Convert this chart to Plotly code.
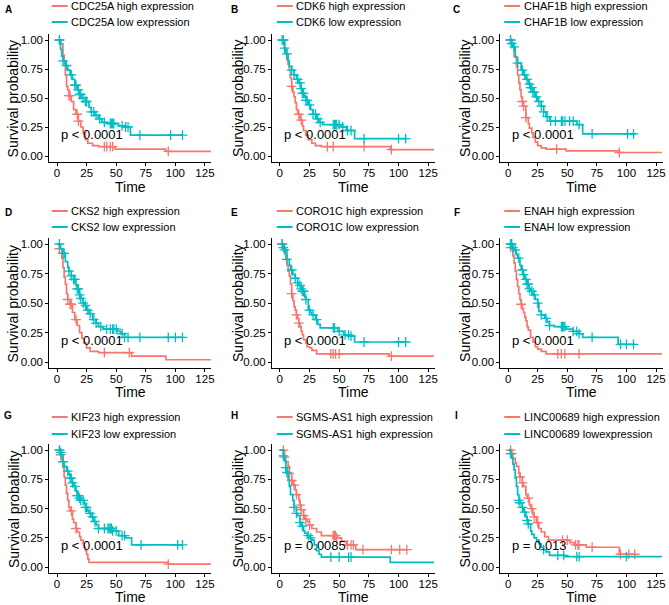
import numpy as np
import plotly.graph_objects as go

# ---------------- data ----------------
RED = "#F8766D"
TEAL = "#00BFC4"

panel_letters = ["A", "B", "C", "D", "E", "F", "G", "H", "I"]
legend_high = ["CDC25A high expression", "CDK6 high expression", "CHAF1B high expression",
               "CKS2 high expression", "CORO1C high expression", "ENAH high expression",
               "KIF23 high expression", "SGMS-AS1 high expression", "LINC00689 high expression"]
legend_low = ["CDC25A low expression", "CDK6 low expression", "CHAF1B low expression",
              "CKS2 low expression", "CORO1C low expression", "ENAH low expression",
              "KIF23 low expression", "SGMS-AS1 high expression", "LINC00689 lowexpression"]
p_labels = ["p < 0.0001", "p < 0.0001", "p < 0.0001", "p < 0.0001", "p < 0.0001",
            "p < 0.0001", "p < 0.0001", "p = 0.0085", "p = 0.013"]

x_ticks = [0, 25, 50, 75, 100, 125]
y_ticks = [0.0, 0.25, 0.5, 0.75, 1.0]
y_tick_text = ["0.00", "0.25", "0.50", "0.75", "1.00"]

# A  CDC25A
A_high_t = [0, 3, 5, 6, 7, 8, 9, 10, 12, 14, 16, 18, 20, 22, 24, 26, 30, 35, 49, 92, 130]
A_high_s = [1, .97, .87, .80, .70, .60, .57, .52, .47, .40, .36, .30, .25, .20, .14, .11, .09, .08, .06, .04, .04]
A_high_c = [2, 10, 11, 17, 18, 40, 42, 45, 47, 94]
A_low_t = [0, 3, 4, 5, 7, 9, 11, 13, 15, 17, 19, 21, 24, 27, 29, 32, 35, 38, 43, 52, 57, 62, 106]
A_low_s = [1, .92, .86, .82, .78, .74, .70, .66, .61, .57, .53, .50, .47, .42, .38, .35, .32, .29, .28, .26, .25, .18, .18]
A_low_c = [2, 5, 8, 12, 15, 16, 18, 19, 20, 22, 24, 25, 29, 31, 33, 36, 40, 45, 46, 47, 48, 55, 58, 60, 70, 96, 106]

# B  CDK6
B_high_t = [0, 4, 6, 7, 8, 9, 10, 11, 12, 13, 14, 15, 17, 19, 20, 22, 24, 27, 30, 35, 93, 130]
B_high_s = [1, .92, .83, .79, .74, .67, .60, .55, .51, .46, .40, .36, .31, .26, .22, .18, .14, .11, .09, .08, .055, .055]
B_high_c = [3, 10, 16, 18, 40, 45, 71, 94]
B_low_t = [0, 4, 5, 7, 8, 10, 12, 14, 16, 18, 19, 21, 22, 24, 26, 28, 31, 33, 36, 52, 56, 63, 107]
B_low_s = [1, .93, .88, .82, .77, .74, .70, .66, .63, .58, .54, .51, .48, .44, .40, .36, .32, .29, .27, .25, .22, .15, .15]
B_low_c = [2, 3, 4, 6, 10, 12, 15, 17, 18, 19, 20, 22, 23, 25, 28, 30, 32, 34, 45, 46, 47, 48, 50, 53, 57, 60, 71, 100, 106]

# C  CHAF1B
C_high_t = [0, 3, 5, 7, 8, 9, 10, 11, 12, 13, 15, 17, 18, 20, 21, 23, 25, 28, 32, 49, 94, 130]
C_high_s = [1, .95, .86, .77, .70, .63, .57, .51, .47, .43, .33, .28, .24, .20, .16, .12, .09, .07, .06, .045, .03, .03]
C_high_c = [2, 12, 13, 15, 41, 94]
C_low_t = [0, 3, 4, 6, 8, 11, 13, 15, 17, 19, 21, 23, 25, 28, 30, 32, 35, 58, 63, 108]
C_low_s = [1, .97, .94, .85, .80, .74, .70, .66, .62, .59, .55, .51, .47, .43, .38, .34, .30, .27, .19, .19]
C_low_c = [2, 3, 5, 8, 12, 14, 16, 18, 19, 20, 21, 22, 24, 26, 28, 30, 33, 36, 40, 45, 46, 48, 52, 55, 60, 71, 101, 106]

# D  CKS2
D_high_t = [0, 2, 4, 5, 6, 7, 8, 9, 11, 13, 15, 17, 19, 21, 23, 25, 28, 35, 63, 92, 130]
D_high_s = [1, .96, .88, .80, .72, .66, .58, .53, .49, .42, .36, .31, .25, .20, .16, .12, .09, .08, .05, .02, .02]
D_high_c = [2, 9, 11, 12, 16, 40, 61]
D_low_t = [0, 3, 5, 7, 9, 10, 12, 14, 16, 17, 19, 20, 22, 23, 25, 27, 30, 33, 35, 39, 51, 54, 57, 106]
D_low_s = [1, .96, .92, .85, .80, .77, .73, .70, .65, .62, .57, .54, .50, .48, .44, .41, .36, .33, .30, .28, .26, .24, .21, .21]
D_low_c = [2, 5, 6, 10, 12, 14, 15, 17, 18, 19, 20, 22, 24, 26, 28, 31, 33, 37, 42, 45, 47, 48, 50, 55, 57, 60, 70, 94, 100, 106]

# E  CORO1C
E_high_t = [0, 3, 5, 6, 7, 8, 9, 10, 11, 12, 13, 14, 15, 16, 17, 18, 19, 20, 22, 23, 25, 27, 31, 92, 130]
E_high_s = [1, .97, .87, .82, .77, .73, .66, .58, .52, .47, .44, .40, .37, .33, .30, .26, .23, .19, .16, .13, .12, .10, .07, .05, .05]
E_high_c = [2, 10, 14, 16, 43, 45, 47, 50, 94]
E_low_t = [0, 3, 4, 6, 8, 9, 11, 13, 15, 16, 18, 19, 21, 22, 24, 26, 27, 30, 32, 34, 49, 54, 59, 63, 107]
E_low_s = [1, .97, .95, .87, .82, .78, .74, .71, .67, .65, .62, .60, .55, .53, .44, .42, .40, .36, .32, .29, .26, .23, .22, .17, .17]
E_low_c = [2, 3, 4, 6, 10, 13, 15, 17, 18, 19, 20, 22, 25, 28, 31, 45, 46, 50, 55, 58, 60, 71, 100, 106]

# F  ENAH
F_high_t = [0, 2, 4, 5, 6, 7, 8, 9, 10, 11, 12, 13, 14, 15, 16, 17, 19, 21, 23, 25, 28, 32, 130]
F_high_s = [1, .97, .90, .84, .77, .70, .64, .58, .53, .49, .45, .42, .38, .35, .30, .27, .21, .17, .13, .11, .09, .07, .07]
F_high_c = [2, 11, 42, 45, 48, 60]
F_low_t = [0, 4, 5, 7, 8, 10, 11, 13, 14, 16, 18, 19, 21, 23, 25, 26, 28, 31, 33, 35, 39, 49, 55, 60, 63, 93, 107]
F_low_s = [1, .97, .95, .91, .88, .82, .78, .74, .70, .66, .62, .60, .57, .53, .50, .43, .40, .37, .34, .31, .30, .28, .26, .24, .21, .15, .15]
F_low_c = [2, 3, 4, 6, 9, 12, 13, 15, 16, 17, 18, 20, 22, 25, 28, 32, 35, 45, 46, 47, 48, 55, 58, 60, 71, 95, 100, 106]

# G  KIF23
G_high_t = [0, 3, 4, 5, 6, 7, 8, 9, 10, 11, 13, 14, 16, 17, 19, 20, 22, 23, 24, 25, 26, 27, 94, 130]
G_high_s = [1, .96, .91, .85, .77, .70, .63, .57, .51, .48, .41, .38, .33, .30, .26, .23, .20, .17, .14, .11, .07, .04, .025, .025]
G_high_c = [2, 3, 12, 16, 94]
G_low_t = [0, 3, 4, 5, 6, 8, 10, 11, 13, 14, 16, 17, 19, 20, 23, 24, 26, 27, 29, 31, 33, 35, 47, 52, 58, 63, 106]
G_low_s = [1, .98, .96, .90, .86, .82, .79, .76, .72, .69, .65, .61, .59, .57, .54, .51, .48, .46, .43, .39, .36, .33, .31, .27, .25, .19, .19]
G_low_c = [2, 3, 5, 9, 11, 12, 13, 15, 17, 18, 19, 20, 22, 24, 25, 28, 30, 32, 35, 40, 43, 44, 45, 46, 47, 50, 55, 57, 71, 102, 106]

# H  SGMS-AS1
H_high_t = [0, 4, 5, 7, 8, 10, 11, 13, 14, 16, 17, 18, 20, 21, 23, 25, 27, 31, 35, 48, 52, 56, 64, 107]
H_high_s = [1, .94, .90, .86, .80, .74, .70, .66, .62, .57, .53, .49, .44, .41, .39, .36, .33, .30, .27, .25, .22, .19, .15, .15]
H_high_c = [3, 4, 8, 10, 12, 14, 17, 18, 20, 22, 25, 45, 46, 47, 48, 57, 60, 62, 70, 94, 101, 107]
H_low_t = [0, 3, 4, 5, 6, 7, 8, 9, 11, 12, 14, 15, 17, 18, 20, 21, 23, 25, 27, 29, 31, 33, 35, 93, 130]
H_low_s = [1, .95, .91, .85, .81, .75, .69, .62, .57, .51, .46, .44, .38, .35, .31, .29, .27, .25, .23, .19, .14, .11, .086, .04, .04]
H_low_c = [3, 5, 6, 12, 14, 17, 19, 24, 26, 43, 50, 58, 60]

# I  LINC00689
I_high_t = [0, 3, 4, 6, 7, 9, 10, 12, 13, 15, 16, 18, 19, 21, 22, 24, 26, 28, 31, 34, 52, 56, 66, 94, 107]
I_high_s = [1, .97, .93, .89, .86, .80, .77, .72, .69, .62, .59, .53, .50, .45, .43, .38, .33, .30, .26, .23, .21, .19, .17, .11, .11]
I_high_c = [2, 3, 10, 12, 17, 20, 22, 25, 46, 50, 57, 59, 60, 71, 95, 102, 107]
I_low_t = [0, 2, 3, 4, 5, 6, 7, 8, 9, 10, 12, 13, 15, 16, 17, 19, 20, 22, 24, 26, 28, 30, 32, 35, 48, 130]
I_low_s = [1, .97, .93, .88, .83, .76, .69, .62, .57, .55, .51, .47, .43, .40, .37, .31, .28, .25, .23, .20, .17, .15, .13, .10, .09, .09]
I_low_c = [2, 9, 10, 12, 14, 16, 17, 30, 42, 47, 58, 60, 100]

high_curves = [(A_high_t, A_high_s, A_high_c), (B_high_t, B_high_s, B_high_c), (C_high_t, C_high_s, C_high_c),
               (D_high_t, D_high_s, D_high_c), (E_high_t, E_high_s, E_high_c), (F_high_t, F_high_s, F_high_c),
               (G_high_t, G_high_s, G_high_c), (H_high_t, H_high_s, H_high_c), (I_high_t, I_high_s, I_high_c)]
low_curves = [(A_low_t, A_low_s, A_low_c), (B_low_t, B_low_s, B_low_c), (C_low_t, C_low_s, C_low_c),
              (D_low_t, D_low_s, D_low_c), (E_low_t, E_low_s, E_low_c), (F_low_t, F_low_s, F_low_c),
              (G_low_t, G_low_s, G_low_c), (H_low_t, H_low_s, H_low_c), (I_low_t, I_low_s, I_low_c)]

# ---------------- layout geometry (pixels) ----------------
W, H = 669, 605
FONT = "Liberation Sans"


def px(x):
    return x / W


def py(y):
    return 1 - y / H


col_dom = [(49.6, 212.4), (273.3, 436.7), (502.7, 665.5)]
row_dom = [(34.2, 161.8), (238.1, 368.0), (444.2, 573.0)]
legend_y = [(6, 22), (211, 227), (417, 434)]
legend_x = [52, 278, 506.5]
letter_x = [8.5, 236, 459]
letter_y = [10, 212, 415]
ytitle_x = [13.5, 239, 467]
xtitle_y = [187, 392, 597]


def step_value(t, s, c):
    t = np.asarray(t, float)
    s = np.asarray(s, float)
    idx = np.searchsorted(t, np.asarray(c, float), side="right") - 1
    return s[np.clip(idx, 0, len(s) - 1)]


fig = go.Figure()
shapes = []
annotations = []
layout_axes = {}

for k in range(9):
    r, c = divmod(k, 3)
    n = k + 1
    xa = "x" if n == 1 else f"x{n}"
    ya = "y" if n == 1 else f"y{n}"
    for (t, s, cens), color in ((high_curves[k], RED), (low_curves[k], TEAL)):
        fig.add_trace(go.Scatter(x=t, y=s, mode="lines", line=dict(color=color, width=1.7, shape="hv"),
                                 xaxis=xa, yaxis=ya, showlegend=False, hoverinfo="skip"))
        fig.add_trace(go.Scatter(x=cens, y=step_value(t, s, cens), mode="markers",
                                 marker=dict(symbol="cross-thin", size=7, line=dict(color=color, width=1.3)),
                                 xaxis=xa, yaxis=ya, showlegend=False, hoverinfo="skip"))
    x0, x1 = col_dom[c]
    y0, y1 = row_dom[r]
    axis_common = dict(showline=True, linecolor="black", linewidth=1.1, ticks="outside", ticklen=3,
                       tickcolor="black", tickwidth=1, showgrid=False, zeroline=False,
                       tickfont=dict(family=FONT, size=11.5, color="black"), fixedrange=True)
    layout_axes[("xaxis" if n == 1 else f"xaxis{n}")] = dict(
        domain=[px(x0), px(x1)], range=[-6.5, 130.5], anchor=ya, tickvals=x_ticks,
        ticklabelstandoff=-3, **axis_common)
    layout_axes[("yaxis" if n == 1 else f"yaxis{n}")] = dict(
        domain=[py(y1), py(y0)], range=[-0.05, 1.05], anchor=xa, tickvals=y_ticks,
        ticktext=y_tick_text, **axis_common)

    # p-value text
    annotations.append(dict(x=1.5, y=0.185, xref=xa, yref=ya, text=p_labels[k], showarrow=False,
                            xanchor="left", yanchor="middle", font=dict(family=FONT, size=13, color="black")))
    # axis titles
    annotations.append(dict(x=px(ytitle_x[c]), y=py((y0 + y1) / 2), xref="paper", yref="paper",
                            text="Survival probability", textangle=-90, showarrow=False,
                            xanchor="center", yanchor="middle", font=dict(family=FONT, size=14, color="black")))
    annotations.append(dict(x=px((x0 + x1) / 2), y=py(xtitle_y[r]), xref="paper", yref="paper",
                            text="Time", showarrow=False, xanchor="center", yanchor="middle",
                            font=dict(family=FONT, size=14, color="black")))
    # panel letter
    annotations.append(dict(x=px(letter_x[c]), y=py(letter_y[r]), xref="paper", yref="paper",
                            text=f"<b>{panel_letters[k]}</b>", showarrow=False, xanchor="center",
                            yanchor="middle", font=dict(family=FONT, size=10, color="black")))
    # legend
    for label, color, ly in ((legend_high[k], RED, legend_y[r][0]), (legend_low[k], TEAL, legend_y[r][1])):
        lx = legend_x[c]
        shapes.append(dict(type="line", xref="paper", yref="paper", x0=px(lx), x1=px(lx + 16),
                           y0=py(ly), y1=py(ly), line=dict(color=color, width=2)))
        annotations.append(dict(x=px(lx + 17.5), y=py(ly), xref="paper", yref="paper", text=label,
                                showarrow=False, xanchor="left", yanchor="middle",
                                font=dict(family=FONT, size=11, color="black")))

fig.update_layout(width=W, height=H, margin=dict(l=0, r=0, t=0, b=0),
                  paper_bgcolor="white", plot_bgcolor="white", showlegend=False,
                  shapes=shapes, annotations=annotations, **layout_axes)

fig.write_html("out.html", config={"displayModeBar": False},
               post_script="document.body.style.margin='0';document.body.style.overflow='hidden';")
